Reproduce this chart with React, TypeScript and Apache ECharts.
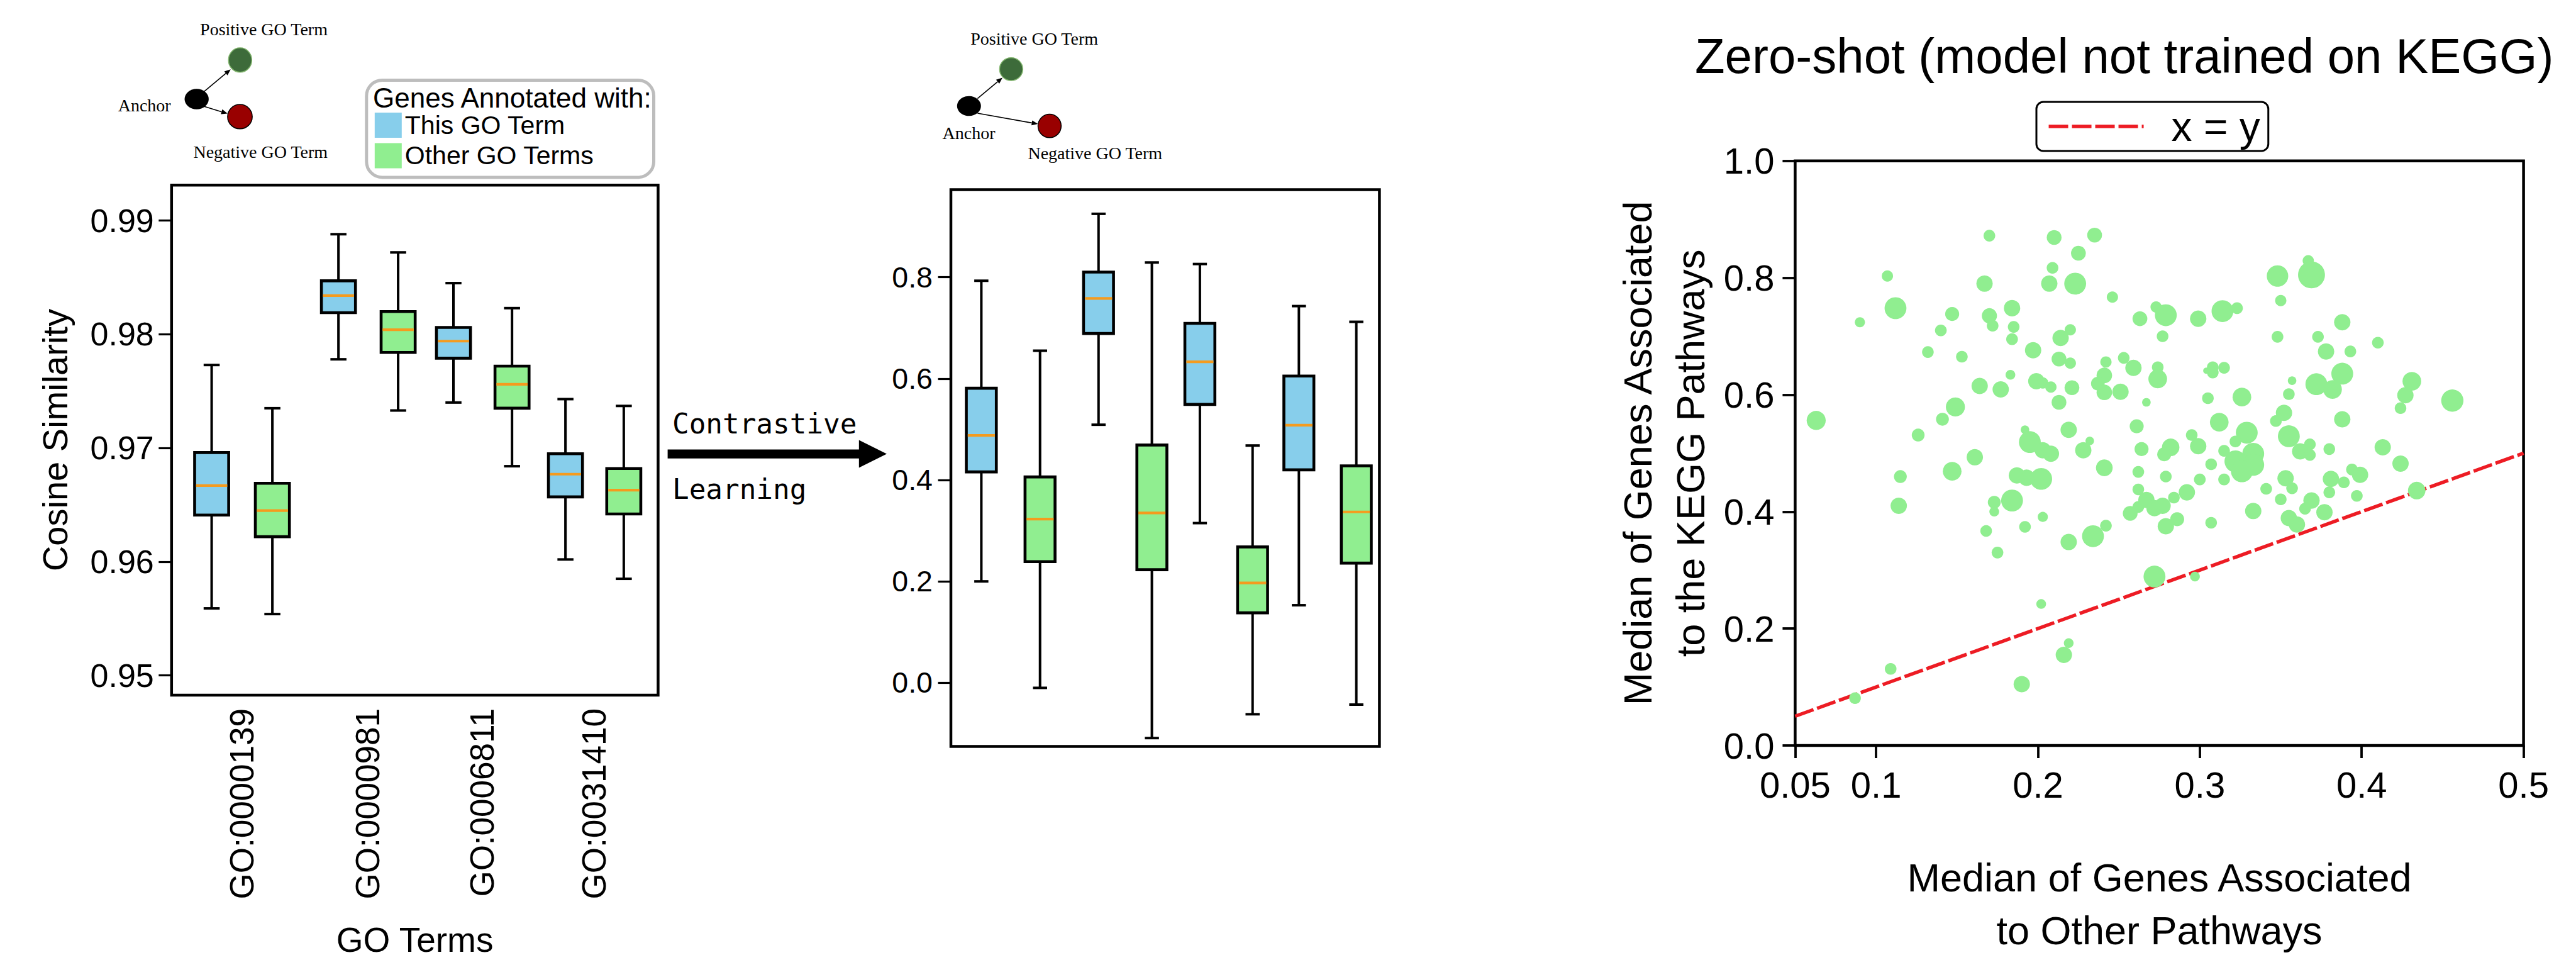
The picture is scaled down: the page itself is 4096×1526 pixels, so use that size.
import React, { useEffect, useRef } from 'react';
import * as echarts from 'echarts';

const SANS = '"Liberation Sans", Arial, sans-serif';
const SERIF = '"Liberation Serif", "Times New Roman", serif';
const MONO = '"DejaVu Sans Mono", monospace';

// ---------------- data ----------------
const goTerms = ['GO:0000139', 'GO:0000981', 'GO:0006811', 'GO:0031410'];
const legendNames = ['This GO Term', 'Other GO Terms'];

// Cosine similarity before contrastive learning: [min, Q1, median, Q3, max]
const beforeThis = [
  [0.9559, 0.9641, 0.9667, 0.9696, 0.9773],
  [0.9778, 0.9819, 0.9834, 0.9847, 0.9888],
  [0.974, 0.9779, 0.9794, 0.9806, 0.9845],
  [0.9602, 0.9657, 0.9677, 0.9695, 0.9743],
];
const beforeOther = [
  [0.9554, 0.9622, 0.9645, 0.9669, 0.9735],
  [0.9733, 0.9784, 0.9804, 0.982, 0.9872],
  [0.9684, 0.9735, 0.9756, 0.9772, 0.9823],
  [0.9585, 0.9642, 0.9663, 0.9682, 0.9737],
];
// After contrastive learning
const afterThis = [
  [0.2, 0.416, 0.488, 0.581, 0.793],
  [0.509, 0.689, 0.758, 0.81, 0.925],
  [0.315, 0.549, 0.633, 0.709, 0.826],
  [0.153, 0.42, 0.508, 0.605, 0.743],
];
const afterOther = [
  [-0.01, 0.239, 0.323, 0.406, 0.655],
  [-0.109, 0.223, 0.335, 0.469, 0.829],
  [-0.062, 0.138, 0.197, 0.268, 0.468],
  [-0.043, 0.236, 0.337, 0.428, 0.712],
];

const beforeTicks = [0.95, 0.96, 0.97, 0.98, 0.99];
const afterTicks = [0.0, 0.2, 0.4, 0.6, 0.8];
const scatterXTicks = [0.05, 0.1, 0.2, 0.3, 0.4, 0.5];
const scatterYTicks = [0, 0.2, 0.4, 0.6, 0.8, 1.0];

// [median other pathways, median KEGG pathway, pathway size]
const keggPoints = [
  [0.17, 0.872, 30], [0.21, 0.869, 38], [0.235, 0.873, 38], [0.225, 0.842, 38], [0.209, 0.817, 30],
  [0.107, 0.803, 29], [0.167, 0.79, 42], [0.207, 0.79, 42], [0.223, 0.79, 56], [0.112, 0.748, 56],
  [0.09, 0.724, 26], [0.147, 0.738, 36], [0.17, 0.735, 39], [0.172, 0.718, 30], [0.184, 0.748, 42],
  [0.185, 0.716, 30], [0.14, 0.71, 30], [0.184, 0.695, 30], [0.214, 0.697, 42], [0.22, 0.711, 29],
  [0.132, 0.673, 30], [0.153, 0.665, 30], [0.197, 0.676, 42], [0.213, 0.661, 38], [0.22, 0.654, 29],
  [0.242, 0.656, 29], [0.241, 0.633, 40], [0.237, 0.619, 35], [0.241, 0.604, 40], [0.183, 0.634, 25],
  [0.164, 0.615, 42], [0.177, 0.609, 42], [0.199, 0.623, 42], [0.203, 0.62, 29], [0.208, 0.613, 29],
  [0.221, 0.612, 38], [0.213, 0.587, 38], [0.149, 0.579, 49], [0.063, 0.556, 49], [0.141, 0.558, 33],
  [0.126, 0.531, 33], [0.192, 0.54, 22], [0.195, 0.519, 56], [0.203, 0.505, 42], [0.208, 0.499, 42],
  [0.219, 0.54, 42], [0.232, 0.521, 22], [0.228, 0.505, 42], [0.241, 0.475, 43], [0.115, 0.46, 33],
  [0.147, 0.469, 48], [0.161, 0.493, 42], [0.187, 0.462, 42], [0.193, 0.458, 42], [0.202, 0.456, 56],
  [0.114, 0.41, 42], [0.173, 0.416, 33], [0.173, 0.4, 25], [0.184, 0.419, 56], [0.203, 0.391, 26],
  [0.192, 0.374, 30], [0.168, 0.367, 30], [0.175, 0.33, 30], [0.219, 0.348, 42], [0.234, 0.358, 56],
  [0.242, 0.376, 30], [0.202, 0.242, 25], [0.109, 0.131, 30], [0.087, 0.081, 30], [0.19, 0.105, 42],
  [0.216, 0.155, 42], [0.219, 0.175, 25], [0.272, 0.289, 56], [0.297, 0.289, 25],
  [0.367, 0.829, 29], [0.348, 0.803, 55], [0.369, 0.805, 69], [0.35, 0.761, 29], [0.246, 0.767, 29],
  [0.273, 0.75, 29], [0.279, 0.736, 56], [0.263, 0.73, 38], [0.299, 0.73, 42], [0.314, 0.743, 56],
  [0.323, 0.748, 30], [0.388, 0.724, 42], [0.277, 0.7, 30], [0.348, 0.699, 30], [0.373, 0.699, 30],
  [0.41, 0.689, 30], [0.378, 0.674, 42], [0.393, 0.674, 30], [0.253, 0.663, 30], [0.259, 0.646, 42],
  [0.274, 0.647, 30], [0.274, 0.627, 48], [0.308, 0.647, 30], [0.304, 0.641, 16], [0.308, 0.638, 30],
  [0.315, 0.646, 30], [0.357, 0.624, 22], [0.372, 0.618, 56], [0.388, 0.636, 56], [0.382, 0.609, 48],
  [0.431, 0.623, 48], [0.427, 0.599, 42], [0.424, 0.577, 30], [0.251, 0.605, 42], [0.267, 0.587, 22],
  [0.305, 0.594, 30], [0.326, 0.596, 48], [0.355, 0.601, 30], [0.352, 0.569, 42], [0.347, 0.555, 30],
  [0.388, 0.558, 42], [0.261, 0.546, 36], [0.312, 0.553, 48], [0.329, 0.535, 56], [0.322, 0.52, 30],
  [0.355, 0.529, 56], [0.295, 0.531, 30], [0.299, 0.512, 42], [0.282, 0.51, 45], [0.278, 0.498, 36],
  [0.264, 0.507, 36], [0.315, 0.504, 30], [0.333, 0.499, 56], [0.322, 0.486, 56], [0.333, 0.48, 56],
  [0.326, 0.469, 56], [0.362, 0.503, 42], [0.368, 0.515, 30], [0.368, 0.497, 30], [0.38, 0.507, 30],
  [0.413, 0.51, 42], [0.424, 0.482, 42], [0.262, 0.468, 30], [0.279, 0.46, 30], [0.307, 0.481, 30],
  [0.3, 0.455, 30], [0.315, 0.455, 30], [0.353, 0.457, 42], [0.357, 0.44, 30], [0.381, 0.456, 42],
  [0.389, 0.45, 30], [0.394, 0.472, 30], [0.399, 0.463, 42], [0.262, 0.438, 30], [0.267, 0.42, 42],
  [0.262, 0.408, 30], [0.257, 0.397, 38], [0.272, 0.406, 42], [0.277, 0.41, 42], [0.284, 0.424, 30],
  [0.292, 0.433, 42], [0.341, 0.439, 30], [0.35, 0.421, 30], [0.38, 0.433, 30], [0.397, 0.427, 30],
  [0.369, 0.419, 42], [0.365, 0.405, 30], [0.377, 0.399, 42], [0.333, 0.401, 42], [0.355, 0.389, 42],
  [0.36, 0.378, 42], [0.434, 0.436, 45], [0.279, 0.375, 42], [0.286, 0.387, 36], [0.307, 0.381, 30],
  [0.456, 0.59, 57],
];
const identityLine = [[0.05, 0.05], [0.5, 0.5]];

// ---------------- layout (not data) ----------------
const leftThisPos = [0.824, 3.43, 5.794, 8.096];
const leftOtherPos = [2.072, 4.657, 6.998, 9.295];
const leftLabelPos = [1.44, 4.03, 6.38, 8.68];
const midThisPos = [0.71, 3.445, 5.81, 8.12];
const midOtherPos = [2.08, 4.69, 7.04, 9.46];
const BOX_W = 0.7;
const CAP_W = 0.33;

const BLUE = '#87CEEB';
const GREEN = '#90EE90';
const MEDIAN = '#F59B1E';
const RED = '#ED1C24';
const DASH = [31, 6];

function nearestIndex(arr: number[], v: number) {
  let best = 0;
  for (let i = 1; i < arr.length; i++) if (Math.abs(arr[i] - v) < Math.abs(arr[best] - v)) best = i;
  return best;
}

function boxRenderer(params: any, api: any) {
  const x = api.value(0);
  const lo = api.coord([x, api.value(1)]);
  const q1 = api.coord([x, api.value(2)]);
  const md = api.coord([x, api.value(3)]);
  const q3 = api.coord([x, api.value(4)]);
  const hi = api.coord([x, api.value(5)]);
  const cx = lo[0];
  const hw = api.size([BOX_W, 0])[0] / 2;
  const hc = api.size([CAP_W, 0])[0] / 2;
  const fill = api.visual('color');
  const ws = { stroke: '#000', lineWidth: 4 };
  const bw = 4.6;
  return {
    type: 'group',
    children: [
      { type: 'line', shape: { x1: cx, y1: hi[1], x2: cx, y2: q3[1] }, style: ws },
      { type: 'line', shape: { x1: cx, y1: q1[1], x2: cx, y2: lo[1] }, style: ws },
      { type: 'line', shape: { x1: cx - hc, y1: hi[1], x2: cx + hc, y2: hi[1] }, style: ws },
      { type: 'line', shape: { x1: cx - hc, y1: lo[1], x2: cx + hc, y2: lo[1] }, style: ws },
      {
        type: 'rect',
        shape: { x: cx - hw, y: q3[1], width: hw * 2, height: q1[1] - q3[1] },
        style: { fill, stroke: '#000', lineWidth: bw },
      },
      {
        type: 'line',
        shape: { x1: cx - hw + bw / 2, y1: md[1], x2: cx + hw - bw / 2, y2: md[1] },
        style: { stroke: MEDIAN, lineWidth: 4.2 },
      },
    ],
  };
}

function arrow(x1: number, y1: number, x2: number, y2: number, len = 10, half = 4) {
  const dx = x2 - x1;
  const dy = y2 - y1;
  const L = Math.sqrt(dx * dx + dy * dy);
  const ux = dx / L;
  const uy = dy / L;
  const bx = x2 - ux * len;
  const by = y2 - uy * len;
  const px = -uy;
  const py = ux;
  return [
    { type: 'line', shape: { x1, y1, x2: bx, y2: by }, style: { stroke: '#000', lineWidth: 1.6 } },
    {
      type: 'polygon',
      shape: { points: [[x2, y2], [bx + px * half, by + py * half], [bx - px * half, by - py * half]] },
      style: { fill: '#000' },
    },
  ];
}

function txt(text: string, x: number, y: number, size: number, family: string, align = 'center') {
  return {
    type: 'text',
    x,
    y,
    style: { text, fontSize: size, fontFamily: family, fill: '#000', align, verticalAlign: 'middle' },
  };
}

function diagram(p: any) {
  return [
    txt('Positive GO Term', p.posText[0], p.posText[1], 28, SERIF),
    txt('Anchor', p.anchorText[0], p.anchorText[1], 28, SERIF),
    txt('Negative GO Term', p.negText[0], p.negText[1], 28, SERIF),
    ...arrow(p.a1[0], p.a1[1], p.a1[2], p.a1[3]),
    ...arrow(p.a2[0], p.a2[1], p.a2[2], p.a2[3]),
    { type: 'ellipse', shape: p.green, style: { fill: '#3D6B3A', stroke: '#7FB36B', lineWidth: 1.5 } },
    { type: 'ellipse', shape: p.black, style: { fill: '#000' } },
    { type: 'ellipse', shape: p.red, style: { fill: '#990000', stroke: '#000', lineWidth: 1.5 } },
  ];
}

const axisFont = { fontFamily: SANS, color: '#000' };

function boxYAxis(grid: number, min: number, max: number, ticks: number[], digits: number, size: number, margin: number, name?: string) {
  return {
    type: 'value',
    gridIndex: grid,
    min,
    max,
    name: name || '',
    nameLocation: 'middle',
    nameGap: 157,
    nameTextStyle: { ...axisFont, fontSize: 56, lineHeight: 56 },
    axisLine: { show: false, onZero: false },
    splitLine: { show: false },
    axisTick: { show: true, customValues: ticks, length: 20.5, lineStyle: { color: '#000', width: 3.2 } },
    axisLabel: {
      customValues: ticks,
      formatter: (v: number) => v.toFixed(digits),
      ...axisFont,
      fontSize: size,
      margin,
    },
  };
}

export default function App() {
  const ref = useRef<HTMLDivElement>(null);
  useEffect(() => {
    if (!ref.current) return;
    const chart = echarts.init(ref.current, undefined, { renderer: 'svg' });

    const mk = (vals: number[][], pos: number[]) => vals.map((v, i) => [pos[i], ...v]);

    const option: any = {
      animation: false,
      backgroundColor: '#fff',
      title: {
        text: 'Zero-shot (model not trained on KEGG)',
        left: 3377.7,
        top: 50,
        textAlign: 'center',
        padding: 0,
        textStyle: { fontFamily: SANS, fontSize: 78, fontWeight: 'normal', color: '#000', lineHeight: 78 },
      },
      legend: [
        {
          data: legendNames,
          orient: 'vertical',
          left: 582.8,
          top: 127.5,
          padding: [51, 95, 14, 13],
          itemWidth: 43,
          itemHeight: 40,
          itemGap: 7.4,
          icon: 'rect',
          selectedMode: false,
          borderColor: '#BDBDBD',
          borderWidth: 5,
          borderRadius: 25,
          itemStyle: { borderWidth: 0 },
          textStyle: { fontFamily: SANS, fontSize: 41, lineHeight: 40, color: '#000' },
        },
        {
          data: ['x = y'],
          left: 3238,
          top: 162,
          padding: [6, 13, 6, 16.8],
          itemWidth: 151,
          itemHeight: 20,
          selectedMode: false,
          borderColor: '#000',
          borderWidth: 3,
          borderRadius: 11,
          itemStyle: { opacity: 0, borderWidth: 0 },
          lineStyle: { color: RED, width: 5.5, type: DASH, opacity: 1 },
          textStyle: { fontFamily: SANS, fontSize: 66, lineHeight: 66, color: '#000', padding: [0, 0, 0, 39] },
        },
      ],
      grid: [
        { left: 272.8, top: 294.2, width: 773.6, height: 822.1, show: true, borderColor: '#000', borderWidth: 4.5, backgroundColor: 'transparent' },
        { left: 1512, top: 301.6, width: 681.4, height: 885, show: true, borderColor: '#000', borderWidth: 4.5, backgroundColor: 'transparent' },
        { left: 2854.4, top: 255.7, width: 1158.2, height: 935, show: true, borderColor: '#000', borderWidth: 4.5, backgroundColor: 'transparent' },
      ],
      xAxis: [
        {
          type: 'value',
          gridIndex: 0,
          min: 0,
          max: 10,
          name: 'GO Terms',
          nameLocation: 'middle',
          nameGap: 361,
          nameTextStyle: { ...axisFont, fontSize: 55, lineHeight: 55 },
          axisLine: { show: false, onZero: false },
          axisTick: { show: false },
          splitLine: { show: false },
          axisLabel: {
            customValues: leftLabelPos,
            rotate: 90,
            margin: 21,
            ...axisFont,
            fontSize: 53,
            formatter: (v: number) => goTerms[nearestIndex(leftLabelPos, v)],
          },
        },
        {
          type: 'value',
          gridIndex: 1,
          min: 0,
          max: 10,
          axisLine: { show: false, onZero: false },
          axisTick: { show: false },
          splitLine: { show: false },
          axisLabel: { show: false },
        },
        {
          type: 'value',
          gridIndex: 2,
          min: 0.05,
          max: 0.5,
          name: 'Median of Genes Associated\nto Other Pathways',
          nameLocation: 'middle',
          nameGap: 168,
          nameTextStyle: { ...axisFont, fontSize: 63, lineHeight: 84 },
          axisLine: { show: false, onZero: false },
          splitLine: { show: false },
          axisTick: { show: true, customValues: scatterXTicks, length: 20, lineStyle: { color: '#000', width: 3.8 } },
          axisLabel: {
            customValues: scatterXTicks,
            formatter: (v: number) => String(+v.toFixed(2)),
            ...axisFont,
            fontSize: 58,
            margin: 33,
          },
        },
      ],
      yAxis: [
        boxYAxis(0, 0.94827, 0.99312, beforeTicks, 2, 52, 28, 'Cosine Similarity'),
        boxYAxis(1, -0.1256, 0.9725, afterTicks, 1, 46.5, 29),
        {
          type: 'value',
          gridIndex: 2,
          min: 0,
          max: 1,
          name: 'Median of Genes Associated\nto the KEGG Pathways',
          nameLocation: 'middle',
          nameGap: 124,
          nameTextStyle: { ...axisFont, fontSize: 63, lineHeight: 84 },
          axisLine: { show: false, onZero: false },
          splitLine: { show: false },
          axisTick: { show: true, customValues: scatterYTicks, length: 20, lineStyle: { color: '#000', width: 3.8 } },
          axisLabel: {
            customValues: scatterYTicks,
            formatter: (v: number) => v.toFixed(1),
            ...axisFont,
            fontSize: 58,
            margin: 33,
          },
        },
      ],
      series: [
        { type: 'custom', name: legendNames[0], xAxisIndex: 0, yAxisIndex: 0, itemStyle: { color: BLUE }, renderItem: boxRenderer, encode: { x: 0, y: [1, 2, 3, 4, 5] }, data: mk(beforeThis, leftThisPos), z: 3 },
        { type: 'custom', name: legendNames[1], xAxisIndex: 0, yAxisIndex: 0, itemStyle: { color: GREEN }, renderItem: boxRenderer, encode: { x: 0, y: [1, 2, 3, 4, 5] }, data: mk(beforeOther, leftOtherPos), z: 3 },
        { type: 'custom', name: legendNames[0], xAxisIndex: 1, yAxisIndex: 1, itemStyle: { color: BLUE }, renderItem: boxRenderer, encode: { x: 0, y: [1, 2, 3, 4, 5] }, data: mk(afterThis, midThisPos), z: 3 },
        { type: 'custom', name: legendNames[1], xAxisIndex: 1, yAxisIndex: 1, itemStyle: { color: GREEN }, renderItem: boxRenderer, encode: { x: 0, y: [1, 2, 3, 4, 5] }, data: mk(afterOther, midOtherPos), z: 3 },
        {
          type: 'line',
          name: 'x = y',
          xAxisIndex: 2,
          yAxisIndex: 2,
          data: identityLine,
          symbol: 'none',
          showSymbol: false,
          lineStyle: { color: RED, width: 5.5, type: DASH },
          itemStyle: { color: RED },
          z: 2,
        },
        {
          type: 'scatter',
          name: 'KEGG pathways',
          xAxisIndex: 2,
          yAxisIndex: 2,
          data: keggPoints,
          symbolSize: (v: number[]) => v[2] * 0.62,
          itemStyle: { color: GREEN, opacity: 1 },
          z: 3,
        },
      ],
      graphic: [
        ...diagram({
          posText: [419.5, 46.1],
          anchorText: [229.7, 167.2],
          negText: [414.3, 241.6],
          a1: [324.1, 145.9, 366.8, 110.2],
          a2: [324.1, 169.1, 361.9, 180.6],
          green: { cx: 381.8, cy: 95.4, rx: 18.5, ry: 19.4 },
          black: { cx: 312.7, cy: 157.5, rx: 19.2, ry: 16.3 },
          red: { cx: 381.5, cy: 185.4, rx: 19.6, ry: 19.4 },
        }),
        ...diagram({
          posText: [1644.6, 61],
          anchorText: [1540.6, 211.2],
          negText: [1741.3, 243.1],
          a1: [1554.3, 156.7, 1594, 123.5],
          a2: [1554.3, 180, 1650.5, 197.1],
          green: { cx: 1607.8, cy: 109.9, rx: 18.4, ry: 18.2 },
          black: { cx: 1540.8, cy: 168.5, rx: 19, ry: 15.8 },
          red: { cx: 1668.9, cy: 200.2, rx: 18.4, ry: 18.6 },
        }),
        txt('Genes Annotated with:', 593, 155.2, 44, SANS, 'left'),
        txt('Contrastive', 1069, 673.7, 44.3, MONO, 'left'),
        txt('Learning', 1069, 777.7, 44.3, MONO, 'left'),
        { type: 'rect', shape: { x: 1061.6, y: 714.5, width: 305, height: 14.3 }, style: { fill: '#000' } },
        { type: 'polygon', shape: { points: [[1365.8, 699.6], [1410, 721.6], [1365.8, 743.6]] }, style: { fill: '#000' } },
      ],
    };

    chart.setOption(option);
    return () => chart.dispose();
  }, []);

  return <div ref={ref} style={{ position: 'fixed', left: 0, top: 0, width: 4096, height: 1526, background: '#fff' }} />;
}
